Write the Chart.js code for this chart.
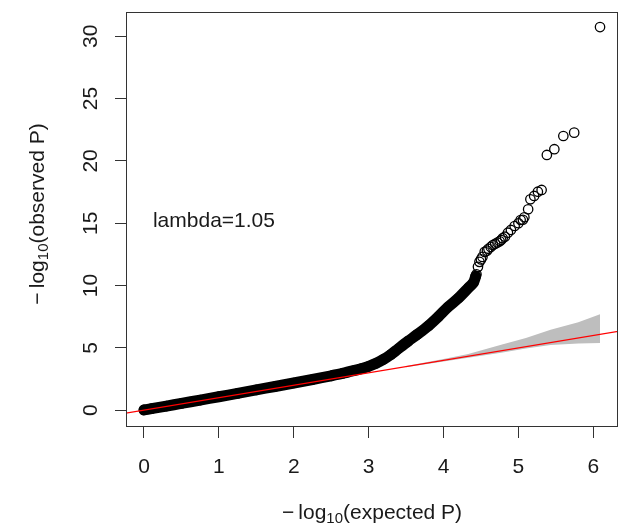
<!DOCTYPE html>
<html><head><meta charset="utf-8">
<script src="https://cdn.jsdelivr.net/npm/chart.js@4.4.0/dist/chart.umd.min.js"></script>
<style>html,body{margin:0;padding:0;background:#fff;}canvas{display:block;}</style>
</head><body>
<canvas id="c" width="624" height="528"></canvas>
<script>
// ---- data ----
const xTicks = [0, 1, 2, 3, 4, 5, 6];
const yTicks = [0, 5, 10, 15, 20, 25, 30];
// dense part of the QQ cloud (expected, observed)
const denseExpected = [0.00, 0.10, 0.30, 0.50, 0.75, 1.00, 1.25, 1.50, 1.75, 2.00, 2.25, 2.50, 2.65, 2.80, 2.90, 3.00, 3.10, 3.20, 3.30, 3.40, 3.53, 3.65, 3.80, 3.93, 4.06, 4.20, 4.33, 4.40, 4.43];
const denseObserved = [0.02, 0.12, 0.33, 0.54, 0.81, 1.08, 1.35, 1.63, 1.90, 2.18, 2.46, 2.76, 2.95, 3.17, 3.33, 3.52, 3.76, 4.08, 4.48, 4.95, 5.55, 6.08, 6.78, 7.50, 8.28, 9.00, 9.80, 10.25, 10.75];
// sparse tail points
const tailExpected = [4.44, 4.46, 4.48, 4.50, 4.52, 4.55, 4.58, 4.60, 4.63, 4.66, 4.69, 4.72, 4.75, 4.77, 4.79, 4.82, 4.86, 4.90, 4.95, 5.00, 5.03, 5.06, 5.08, 5.13, 5.16, 5.21, 5.26, 5.31, 5.38, 5.48, 5.60, 5.745, 6.09];
const tailObserved = [10.9, 11.5, 11.9, 12.1, 12.3, 12.7, 12.8, 12.95, 13.1, 13.25, 13.35, 13.45, 13.55, 13.65, 13.8, 13.92, 14.24, 14.46, 14.78, 15.0, 15.26, 15.28, 15.48, 16.12, 16.92, 17.19, 17.53, 17.67, 20.48, 20.94, 22.0, 22.27, 30.74];
// confidence band
const ciExpected = [3.5, 4.0, 4.33, 4.77, 5.1, 5.43, 5.8, 6.09];
const ciUpper = [3.55, 4.1, 4.5, 5.25, 5.8, 6.45, 7.05, 7.7];
const ciLower = [3.45, 3.9, 4.2, 4.6, 4.95, 5.22, 5.35, 5.4];
// y = x reference line endpoints
const refX = [-1, 7];
const refY = [-1, 7];
const lambdaLabel = 'lambda=1.05';
const lambdaPos = [0.12, 15.15];

const zip = (xs, ys) => xs.map((x, i) => ({x: x, y: ys[i]}));
const FONT = '"Liberation Sans", Arial, Helvetica, sans-serif';
const INK = '#1a1a1a';

const decor = {
  id: 'decor',
  afterDraw(chart) {
    const ctx = chart.ctx, a = chart.chartArea;
    const xs = chart.scales.x, ys = chart.scales.y;
    ctx.save();
    ctx.strokeStyle = '#333';
    ctx.lineWidth = 1;
    ctx.strokeRect(Math.round(a.left) + 0.5, Math.round(a.top) + 0.5, Math.round(a.right - a.left) - 1, Math.round(a.bottom - a.top) - 1);
    ctx.fillStyle = INK;
    // lambda text
    ctx.font = '21px ' + FONT;
    ctx.textAlign = 'left';
    ctx.textBaseline = 'middle';
    ctx.fillText(lambdaLabel, xs.getPixelForValue(lambdaPos[0]), ys.getPixelForValue(lambdaPos[1]));
    // axis titles with subscript
    function title(pre, sub, post, cx, cy, rot) {
      ctx.save();
      ctx.translate(cx, cy);
      ctx.rotate(rot);
      ctx.textBaseline = 'alphabetic';
      ctx.textAlign = 'left';
      ctx.font = '21px ' + FONT;
      const w1 = ctx.measureText(pre).width, w3 = ctx.measureText(post).width;
      ctx.font = '15px ' + FONT;
      const w2 = ctx.measureText(sub).width;
      let x = -(w1 + w2 + w3) / 2;
      const base = 7;
      ctx.font = '21px ' + FONT;
      ctx.fillText(pre, x, base); x += w1;
      ctx.font = '15px ' + FONT;
      ctx.fillText(sub, x, base + 4); x += w2;
      ctx.font = '21px ' + FONT;
      ctx.fillText(post, x, base);
      ctx.restore();
    }
    title('\u2212\u2009log', '10', '(expected P)', (a.left + a.right) / 2, 512, 0);
    title('\u2212\u2009log', '10', '(observed P)', 37, 214, -Math.PI / 2);
    ctx.restore();
  }
};

new Chart(document.getElementById('c'), {
  type: 'line',
  data: {
    datasets: [
      { label: 'ref', data: zip(refX, refY), borderColor: '#ff0000', borderWidth: 1.2, pointRadius: 0, fill: false, order: 0, clip: 0 },
      { label: 'points', data: zip(denseExpected, denseObserved).concat(zip(tailExpected, tailObserved)), showLine: false,
        pointRadius: 4.7, pointBorderWidth: 1.3, pointBorderColor: '#000', pointBackgroundColor: 'rgba(0,0,0,0)', order: 1, clip: false },
      { label: 'dense', data: zip(denseExpected, denseObserved), borderColor: '#000', borderWidth: 11, borderCapStyle: 'round', borderJoinStyle: 'round',
        pointRadius: 0, tension: 0.3, fill: false, order: 2, clip: false },
      { label: 'ciUpper', data: zip(ciExpected, ciUpper), borderWidth: 0, borderColor: 'rgba(0,0,0,0)', pointRadius: 0,
        backgroundColor: '#bebebe', fill: '+1', order: 3 },
      { label: 'ciLower', data: zip(ciExpected, ciLower), borderWidth: 0, borderColor: 'rgba(0,0,0,0)', pointRadius: 0, fill: false, order: 4 }
    ]
  },
  options: {
    responsive: false,
    animation: false,
    devicePixelRatio: 1,
    layout: { padding: { top: 12, right: 3, left: 0, bottom: 0 } },
    plugins: { legend: { display: false }, tooltip: { enabled: false } },
    scales: {
      x: {
        type: 'linear', min: -0.24, max: 6.33,
        afterBuildTicks: s => { s.ticks = xTicks.map(v => ({value: v})); },
        afterFit: s => { s.height = 101; s.paddingLeft = 0; s.paddingRight = 0; },
        grid: { drawOnChartArea: false, drawTicks: true, tickLength: 11, color: '#333', tickWidth: 1 },
        border: { display: false },
        ticks: { color: INK, font: { family: FONT, size: 21 }, padding: 17, maxRotation: 0, autoSkip: false }
      },
      y: {
        type: 'linear', min: -1.35, max: 31.95,
        afterBuildTicks: s => { s.ticks = yTicks.map(v => ({value: v})); },
        afterFit: s => { s.width = 126; s.paddingTop = 0; s.paddingBottom = 0; },
        grid: { drawOnChartArea: false, drawTicks: true, tickLength: 11, color: '#333', tickWidth: 1 },
        border: { display: false },
        ticks: { color: INK, font: { family: FONT, size: 21 }, padding: 12, minRotation: 90, maxRotation: 90, crossAlign: 'center', autoSkip: false }
      }
    }
  },
  plugins: [decor]
});
</script>
</body></html>
